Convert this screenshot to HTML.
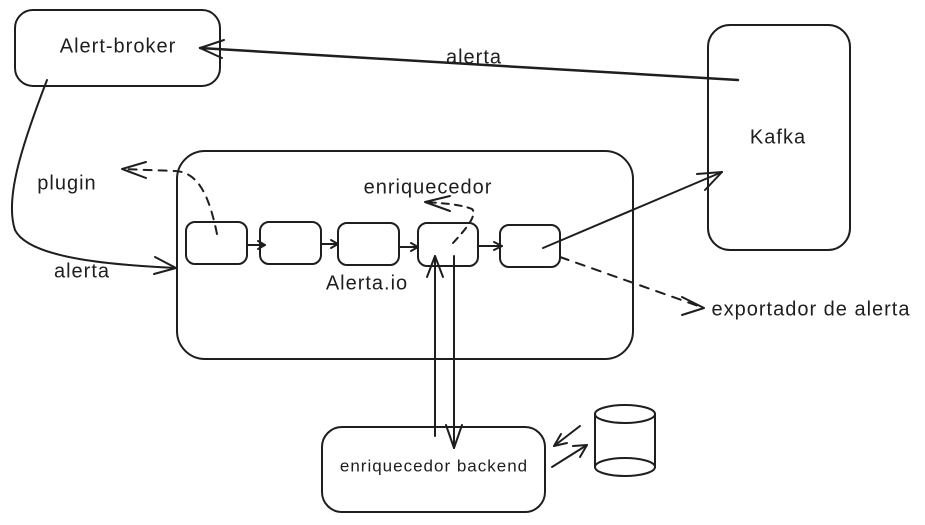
<!DOCTYPE html>
<html><head><meta charset="utf-8"><style>
html,body{margin:0;padding:0;background:#fff;}
svg{display:block}
text{font-family:"Liberation Sans",sans-serif;font-size:20px;letter-spacing:1px;fill:#1e1e1e;text-anchor:middle;dominant-baseline:middle}
</style></head><body>
<svg width="925" height="525" viewBox="0 0 925 525" xmlns="http://www.w3.org/2000/svg">
<g fill="none" stroke="#1e1e1e" stroke-width="2" stroke-linecap="round" stroke-linejoin="round">
<rect x="15" y="10" width="205" height="76" rx="18"/>
<rect x="708" y="25" width="142" height="225" rx="22"/>
<rect x="177" y="151" width="456" height="208" rx="28"/>
<rect x="186" y="222" width="61" height="42" rx="9"/>
<rect x="260" y="222" width="61" height="42" rx="9"/>
<rect x="338" y="223" width="61" height="42" rx="9"/>
<rect x="418" y="223" width="60" height="43" rx="9"/>
<rect x="500" y="225" width="60" height="42" rx="9"/>
<rect x="322" y="427" width="223" height="85" rx="20"/>
<ellipse cx="625" cy="414" rx="30" ry="9"/>
<ellipse cx="625" cy="467" rx="30" ry="9"/>
<line x1="595" y1="414" x2="595" y2="467"/>
<line x1="655" y1="414" x2="655" y2="467"/>
<line x1="738" y1="80" x2="200" y2="48" stroke-width="2.5"/>
<polyline points="224,40 200,48 222,58"/>
<path d="M47,80 C20,150 5,200 15,230 C30,260 120,265 176,268"/>
<polyline points="155,257 176,268 154,274"/>
<path d="M217,234 C210,200 200,172 175,171 L122,169" stroke-dasharray="8,7"/>
<polyline points="146,162 122,169 146,178"/>
<line x1="247" y1="245" x2="265" y2="245"/><polyline points="258,241 265,245 258,249"/>
<line x1="321" y1="244" x2="338" y2="244"/><polyline points="331,240 338,244 331,248"/>
<line x1="399" y1="247" x2="418" y2="247"/><polyline points="411,243 418,247 411,251"/>
<line x1="478" y1="246" x2="502" y2="246"/><polyline points="494,242 502,246 494,250"/>
<path d="M453,243 C465,230 478,215 472,209 C460,204 440,203 425,202" stroke-dasharray="7,6"/>
<polyline points="450,196 425,202 450,211"/>
<line x1="543" y1="248" x2="722" y2="172"/>
<polyline points="697,174 722,172 705,190"/>
<line x1="560" y1="257" x2="704" y2="308" stroke-dasharray="9,8"/>
<polyline points="682,297 704,308 682,315"/>
<line x1="435" y1="436" x2="435" y2="256"/>
<polyline points="427,277 435,256 443,277"/>
<line x1="454" y1="256" x2="454" y2="448"/>
<polyline points="446,425 454,448 462,425"/>
<line x1="580" y1="426" x2="554" y2="446"/><polyline points="561,434 554,446 567,443"/>
<line x1="552" y1="467" x2="587" y2="445"/><polyline points="573,446 587,445 580,457"/>
</g>
<text x="118" y="47">Alert-broker</text>
<text x="778" y="138">Kafka</text>
<text x="474" y="58">alerta</text>
<text x="67" y="184">plugin</text>
<text x="82" y="272">alerta</text>
<text x="428" y="188">enriquecedor</text>
<text x="367" y="284">Alerta.io</text>
<text x="811" y="310">exportador de alerta</text>
<text x="434" y="467" style="font-size:17px">enriquecedor backend</text>
</svg>
</body></html>
